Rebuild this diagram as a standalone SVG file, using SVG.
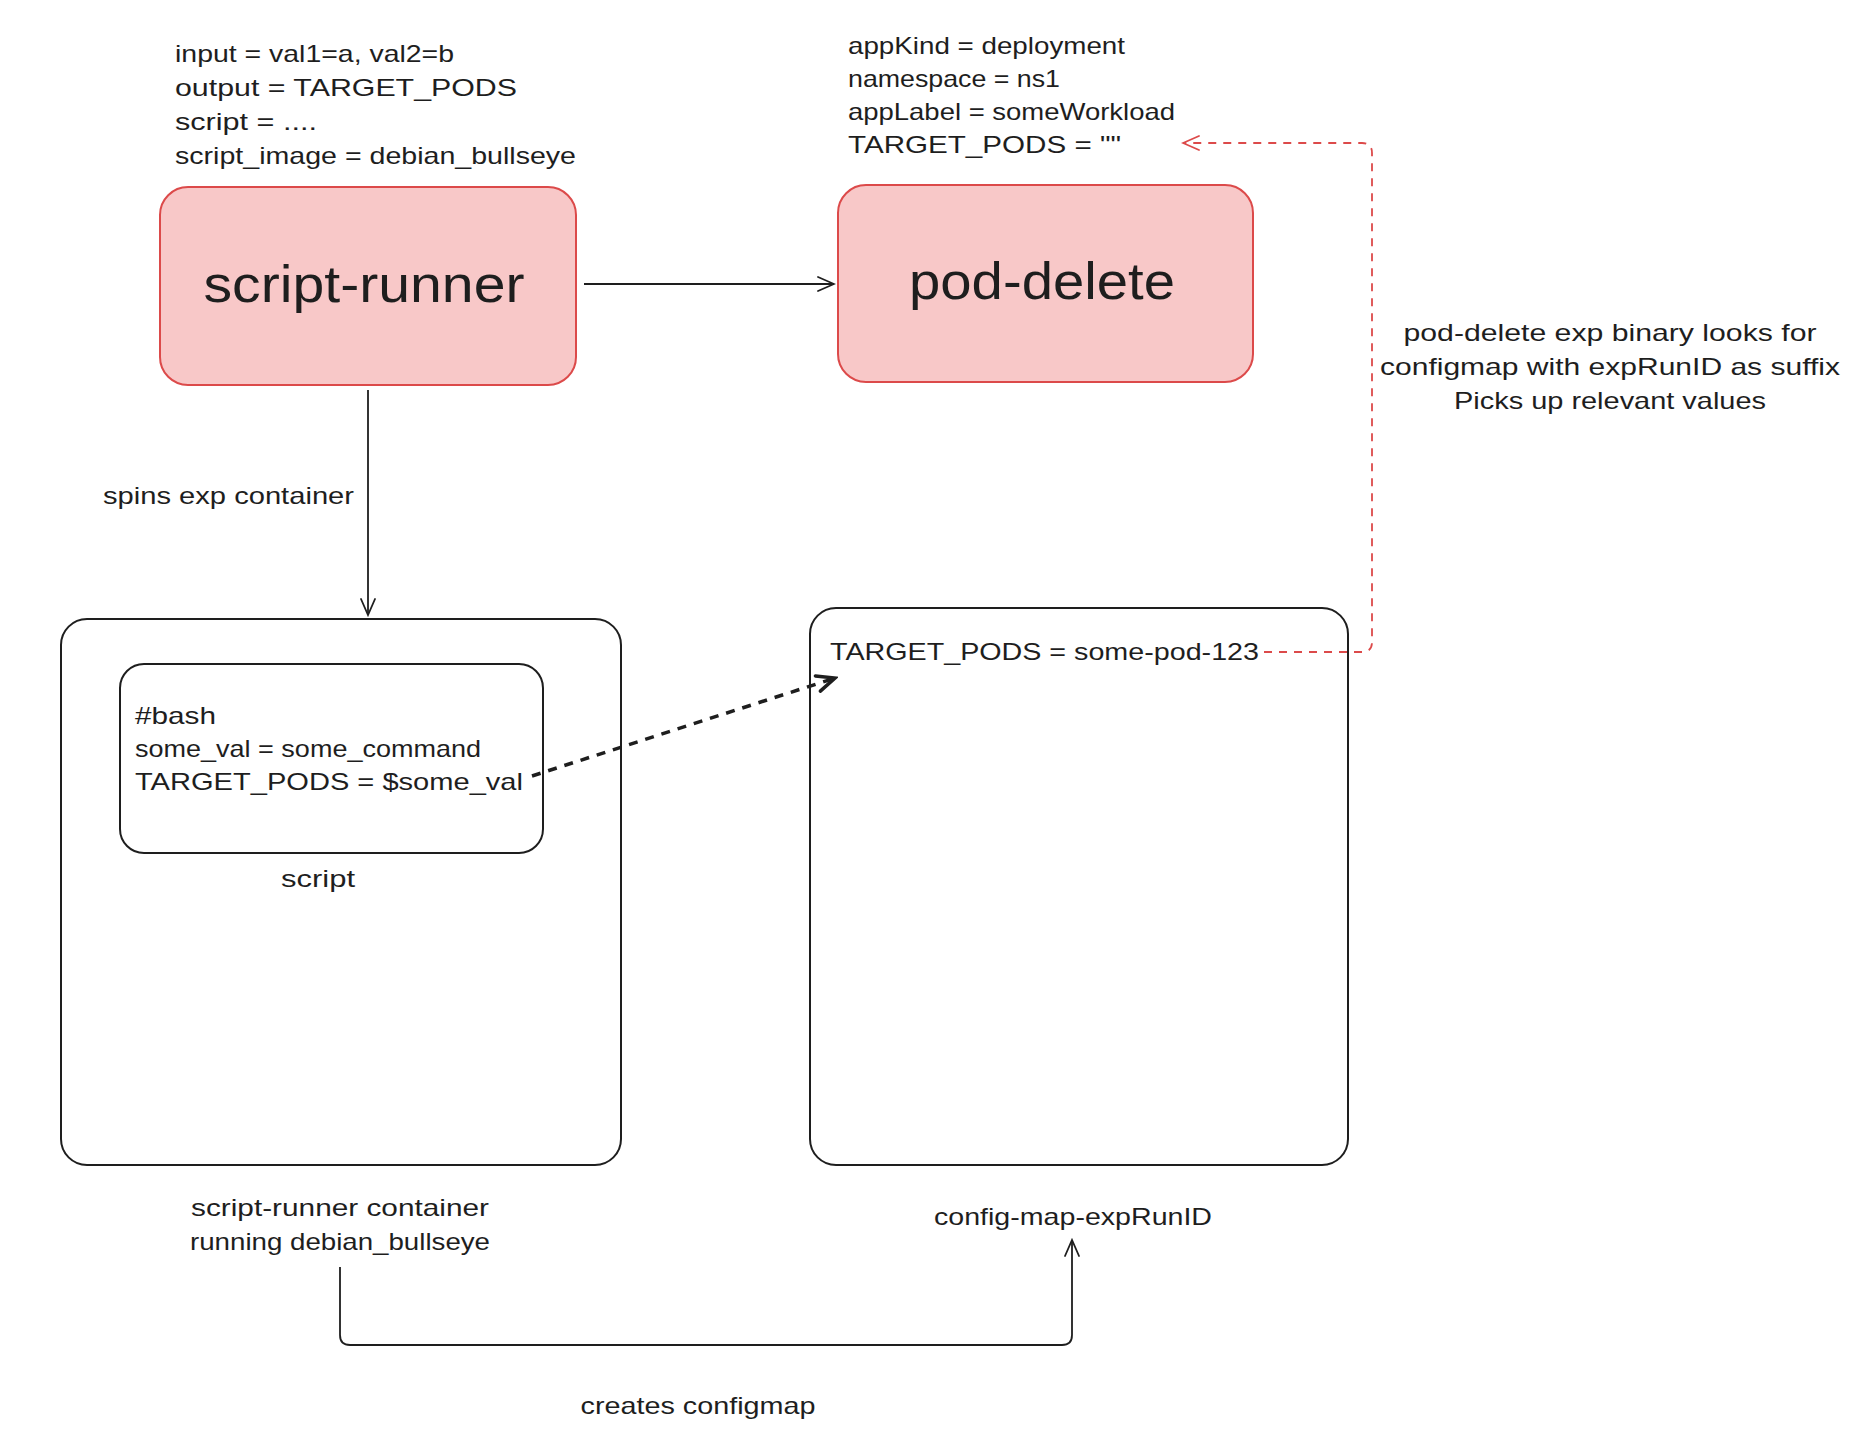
<svg xmlns="http://www.w3.org/2000/svg" width="1870" height="1454" viewBox="0 0 1870 1454">
<defs>
<style>
text{font-family:"Liberation Sans","Open Sans",sans-serif;fill:#1e1e1e;}
.t{font-size:24px;}
.big{font-size:52px;}
.red{fill:#f8c8c8;stroke:#dc4a4a;stroke-width:2;}
.box{fill:none;stroke:#1e1e1e;stroke-width:2;}
.ln{fill:none;stroke:#1e1e1e;stroke-width:1.8;}
</style>
<marker id="ah" viewBox="0 0 20 20" refX="18" refY="10" markerWidth="20" markerHeight="20" markerUnits="userSpaceOnUse" orient="auto">
<path d="M2,3 L18,10 L2,17" fill="none" stroke="#1e1e1e" stroke-width="1.8" stroke-linecap="round"/>
</marker>
<marker id="ahb" viewBox="0 0 24 24" refX="21" refY="12" markerWidth="24" markerHeight="24" markerUnits="userSpaceOnUse" orient="auto">
<path d="M3,4 L21,12 L3,20" fill="none" stroke="#1e1e1e" stroke-width="3.5" stroke-linecap="round"/>
</marker>
<marker id="ahr" viewBox="0 0 20 20" refX="18" refY="10" markerWidth="20" markerHeight="20" markerUnits="userSpaceOnUse" orient="auto">
<path d="M2,3 L18,10 L2,17" fill="none" stroke="#dc4a4a" stroke-width="1.8" stroke-linecap="round"/>
</marker>
</defs>
<rect width="1870" height="1454" fill="#ffffff"/>

<g id="connectors">
<line x1="584" y1="284" x2="834" y2="284" class="ln" marker-end="url(#ah)"/>
<line x1="368" y1="390" x2="368" y2="615" class="ln" marker-end="url(#ah)"/>
<path d="M532,776 L835,678" fill="none" stroke="#1e1e1e" stroke-width="3.5" stroke-dasharray="9 8" marker-end="url(#ahb)"/>
<path d="M1264,652 L1362,652 Q1372,652 1372,642 L1372,153 Q1372,143 1362,143 L1183,143" fill="none" stroke="#dc4a4a" stroke-width="1.8" stroke-dasharray="8 7" marker-end="url(#ahr)"/>
<path d="M340,1267 L340,1335 Q340,1345 350,1345 L1062,1345 Q1072,1345 1072,1335 L1072,1240" class="ln" marker-end="url(#ah)"/>
<text class="t" x="103" y="504" textLength="251" lengthAdjust="spacingAndGlyphs">spins exp container</text>
<text class="t" x="698" y="1414" text-anchor="middle" textLength="235" lengthAdjust="spacingAndGlyphs">creates configmap</text>
<text class="t" x="1610" y="341" text-anchor="middle" textLength="413" lengthAdjust="spacingAndGlyphs">pod-delete exp binary looks for</text>
<text class="t" x="1610" y="375" text-anchor="middle" textLength="460" lengthAdjust="spacingAndGlyphs">configmap with expRunID as suffix</text>
<text class="t" x="1610" y="409" text-anchor="middle" textLength="312" lengthAdjust="spacingAndGlyphs">Picks up relevant values</text>
</g>

<g id="script-runner-params">
<text class="t" x="175" y="62" textLength="279" lengthAdjust="spacingAndGlyphs">input = val1=a, val2=b</text>
<text class="t" x="175" y="96" textLength="342" lengthAdjust="spacingAndGlyphs">output = TARGET_PODS</text>
<text class="t" x="175" y="130" textLength="142" lengthAdjust="spacingAndGlyphs">script = ....</text>
<text class="t" x="175" y="164" textLength="401" lengthAdjust="spacingAndGlyphs">script_image = debian_bullseye</text>
</g>

<g id="script-runner">
<rect class="red" x="160" y="187" width="416" height="198" rx="28"/>
<text class="big" x="364" y="302" text-anchor="middle" textLength="321" lengthAdjust="spacingAndGlyphs">script-runner</text>
</g>

<g id="pod-delete-params">
<text class="t" x="848" y="54" textLength="277" lengthAdjust="spacingAndGlyphs">appKind = deployment</text>
<text class="t" x="848" y="87" textLength="212" lengthAdjust="spacingAndGlyphs">namespace = ns1</text>
<text class="t" x="848" y="120" textLength="327" lengthAdjust="spacingAndGlyphs">appLabel = someWorkload</text>
<text class="t" x="848" y="153" textLength="273" lengthAdjust="spacingAndGlyphs">TARGET_PODS = ""</text>
</g>

<g id="pod-delete">
<rect class="red" x="838" y="185" width="415" height="197" rx="28"/>
<text class="big" x="1042" y="299" text-anchor="middle" textLength="266" lengthAdjust="spacingAndGlyphs">pod-delete</text>
</g>

<g id="script-runner-container">
<rect class="box" x="61" y="619" width="560" height="546" rx="26"/>
<text class="t" x="340" y="1216" text-anchor="middle" textLength="298" lengthAdjust="spacingAndGlyphs">script-runner container</text>
<text class="t" x="340" y="1250" text-anchor="middle" textLength="300" lengthAdjust="spacingAndGlyphs">running debian_bullseye</text>
</g>

<g id="script">
<rect class="box" x="120" y="664" width="423" height="189" rx="24"/>
<text class="t" x="135" y="724" textLength="81" lengthAdjust="spacingAndGlyphs">#bash</text>
<text class="t" x="135" y="757" textLength="346" lengthAdjust="spacingAndGlyphs">some_val = some_command</text>
<text class="t" x="135" y="790" textLength="388" lengthAdjust="spacingAndGlyphs">TARGET_PODS = $some_val</text>
<text class="t" x="318" y="887" text-anchor="middle" textLength="74" lengthAdjust="spacingAndGlyphs">script</text>
</g>

<g id="config-map">
<rect class="box" x="810" y="608" width="538" height="557" rx="26"/>
<text class="t" x="830" y="660" textLength="429" lengthAdjust="spacingAndGlyphs">TARGET_PODS = some-pod-123</text>
<text class="t" x="1073" y="1225" text-anchor="middle" textLength="278" lengthAdjust="spacingAndGlyphs">config-map-expRunID</text>
</g>
</svg>
